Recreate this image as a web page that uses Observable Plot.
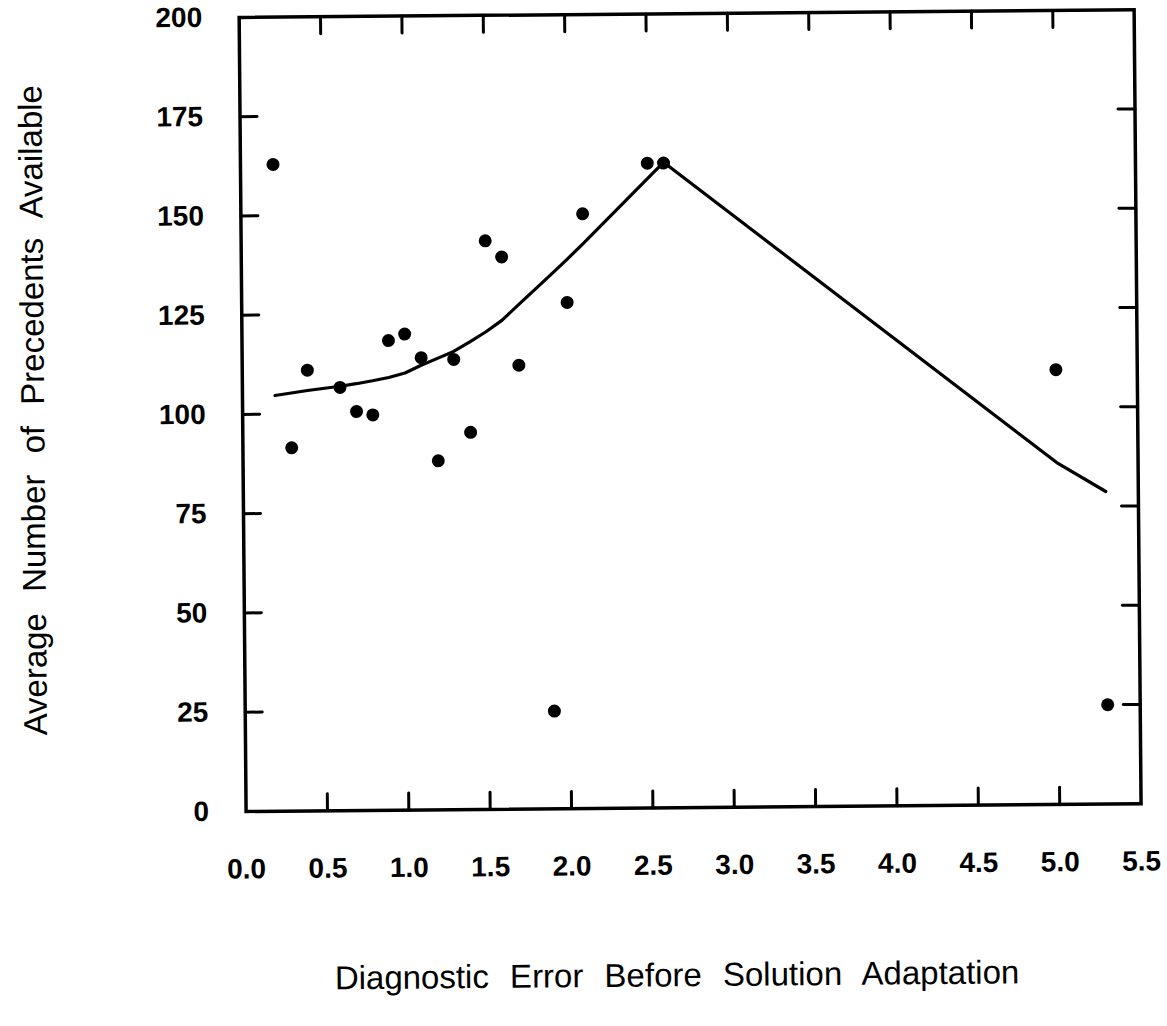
<!DOCTYPE html>
<html>
<head>
<meta charset="utf-8">
<script src="https://cdn.jsdelivr.net/npm/d3@7"></script>
<script src="https://cdn.jsdelivr.net/npm/@observablehq/plot@0.6"></script>
<style>
  html, body { margin: 0; padding: 0; background: #fff; }
  #chart svg { display: block; transform: rotate(-0.5deg); transform-origin: 50% 50%; }
  #chart g[aria-label="text"] text { word-spacing: 12px; }
</style>
</head>
<body>
<div id="chart"></div>
<script>
// Diagnostic error (x) for each observation
const errorValues = [0.2, 0.3, 0.4, 0.6, 0.7, 0.8, 0.9, 1.0, 1.1, 1.2, 1.3, 1.4, 1.5, 1.6, 1.7, 1.9, 2.0, 2.1, 2.5, 2.6, 5.0, 5.3];
// Average number of precedents available (scatter points)
const precedents = [162.9, 91.5, 111.0, 106.6, 100.5, 99.6, 118.3, 119.9, 113.9, 87.9, 113.4, 95.0, 143.2, 139.1, 111.8, 24.6, 127.5, 149.8, 162.4, 162.4, 109.5, 25.0];
// Smoothed curve values at the same x positions
const fitted = [104.7, 105.3, 105.9, 106.9, 107.5, 108.2, 109.0, 110.1, 112.0, 113.7, 115.4, 117.8, 120.3, 123.2, 127.0, 134.5, 138.3, 142.2, 158.5, 162.6, 86.1, 78.7];

const xTicks = [0, 0.5, 1.0, 1.5, 2.0, 2.5, 3.0, 3.5, 4.0, 4.5, 5.0, 5.5];
const yTicks = [0, 25, 50, 75, 100, 125, 150, 175, 200];
const xTitle = "Diagnostic Error Before Solution Adaptation";
const yTitle = "Average Number of Precedents Available";

const points = errorValues.map((x, i) => ({x, y: precedents[i]}));
const curve = errorValues.map((x, i) => ({x, y: fitted[i]}));
const innerX = xTicks.slice(1, -1);
const innerY = yTicks.slice(1, -1);

const tickShape = {draw(context, l) { context.moveTo(0, 0); context.lineTo(0, -l); }};
const tickOpts = {length: 17, anchor: "start", shape: tickShape, strokeWidth: 3, stroke: "#000"};

const chart = Plot.plot({
  width: 1167,
  height: 1026,
  marginLeft: 243,
  marginRight: 29,
  marginTop: 14,
  marginBottom: 218,
  style: {fontFamily: "'Liberation Sans', Arial, Helvetica, sans-serif", background: "#fff", color: "#000"},
  x: {domain: [0, 5.5]},
  y: {domain: [0, 200]},
  marks: [
    Plot.axisX(xTicks, {anchor: "bottom", tickSize: 0, tickPadding: 47, tickFormat: d3.format(".1f"), fontSize: 28, fontWeight: "bold", label: null}),
    Plot.axisY(yTicks, {anchor: "left", tickSize: 0, tickPadding: 37, tickFormat: d => String(d), fontSize: 28, fontWeight: "bold", label: null}),
    Plot.vector(innerX, {x: d => d, frameAnchor: "bottom", rotate: 0, ...tickOpts}),
    Plot.vector(innerX, {x: d => d, frameAnchor: "top", rotate: 180, ...tickOpts}),
    Plot.vector(innerY, {y: d => d, frameAnchor: "left", rotate: 90, ...tickOpts}),
    Plot.vector(innerY, {y: d => d, frameAnchor: "right", rotate: -90, ...tickOpts}),
    Plot.frame({stroke: "#000", strokeWidth: 3.5}),
    Plot.line(curve, {x: "x", y: "y", stroke: "#000", strokeWidth: 3.2, curve: "linear"}),
    Plot.dot(points, {x: "x", y: "y", r: 6.5, fill: "#000", stroke: "none"}),
    Plot.text([yTitle], {text: d => d, frameAnchor: "left", rotate: -90, dx: -209, dy: -6, fontSize: 33, textAnchor: "middle", lineAnchor: "middle", fill: "#000"}),
    Plot.text([xTitle], {text: d => d, frameAnchor: "bottom", dx: -18, dy: 168, fontSize: 33, textAnchor: "middle", lineAnchor: "middle", fill: "#000"})
  ]
});
document.getElementById("chart").appendChild(chart);
</script>
</body>
</html>
